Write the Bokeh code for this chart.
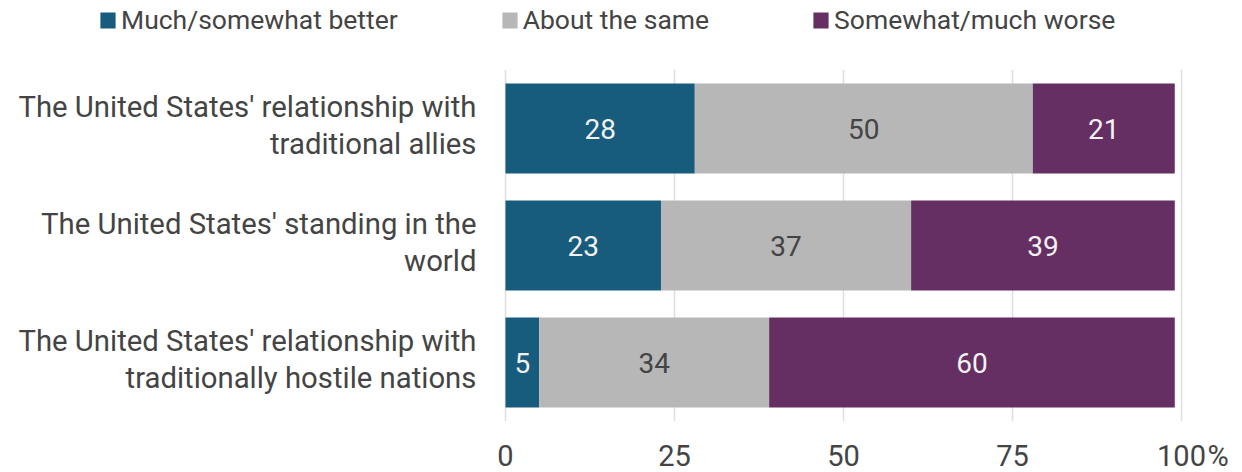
from bokeh.plotting import figure
from bokeh.models import ColumnDataSource, Range1d, Legend, LegendItem
from bokeh.core.properties import value
from bokeh.embed import file_html
from bokeh.resources import INLINE

categories = [
    "The United States' relationship with\ntraditionally hostile nations",
    "The United States' standing in the\nworld",
    "The United States' relationship with\ntraditional allies",
]
better = [5, 23, 28]
same = [34, 37, 50]
worse = [60, 39, 21]
series_names = ["Much/somewhat better", "About the same", "Somewhat/much worse"]
series_keys = ["better", "same", "worse"]
colors = ["#175c7c", "#b7b7b7", "#652f63"]
label_colors = ["#f2f2f2", "#444444", "#f2f2f2"]
ticks = [0, 25, 50, 75, 100]
tick_labels = ["0", "25", "50", "75", "100"]
unit_suffix = "%"

FONT = "Roboto"
ypos = list(range(len(categories)))
tick_y = -0.795

src = ColumnDataSource(dict(y=ypos, better=better, same=same, worse=worse))

p = figure(width=1242, height=472, output_backend="svg", toolbar_location=None,
           x_range=Range1d(-74.7, 109.02), y_range=Range1d(-0.940, 3.094),
           min_border_left=0, min_border_right=0, min_border_top=0, min_border_bottom=0,
           x_axis_type=None, y_axis_type=None)
p.outline_line_color = None
p.background_fill_color = "white"

# vertical grid lines
p.segment(x0=ticks, x1=ticks, y0=[-0.5] * len(ticks), y1=[len(categories) - 0.5] * len(ticks),
          line_color="#dedede", line_width=1.5)

rends = p.hbar_stack(series_keys, y="y", height=0.77, color=colors, source=src, line_color=None)

# value labels
data = [better, same, worse]
left = [0] * len(categories)
for vals, lc in zip(data, label_colors):
    cx = [l + v / 2 for l, v in zip(left, vals)]
    p.text(x=cx, y=ypos, text=[str(v) for v in vals], text_align="center",
           text_baseline="middle", text_color=lc, text_font=value(FONT),
           text_font_size="28px")
    left = [l + v for l, v in zip(left, vals)]

# category labels
p.text(x=[-4.3] * len(categories), y=ypos, text=categories, text_align="right",
       text_baseline="middle", text_color="#444444", text_font=value(FONT),
       text_font_size="29.3px", text_line_height=1.1, y_offset=-3)

# x tick labels
p.text(x=ticks, y=[tick_y] * len(ticks), text=tick_labels, text_align="center",
       text_baseline="middle", text_color="#444444", text_font=value(FONT),
       text_font_size="29px")
p.text(x=[ticks[-1]], y=[tick_y], text=[unit_suffix], x_offset=26, text_align="left",
       text_baseline="middle", text_color="#444444", text_font=value(FONT),
       text_font_size="29px")

legend = Legend(items=[LegendItem(label=n, renderers=[r]) for n, r in zip(series_names, rends)],
                location=(98, 437), orientation="horizontal", spacing=102,
                glyph_width=19, glyph_height=20, label_standoff=4,
                label_text_font=FONT, label_text_font_size="26.5px", label_text_color="#444444",
                border_line_color=None, background_fill_alpha=0, padding=0, margin=0)
p.add_layout(legend)

open("out.html", "w").write(file_html(p, INLINE))
